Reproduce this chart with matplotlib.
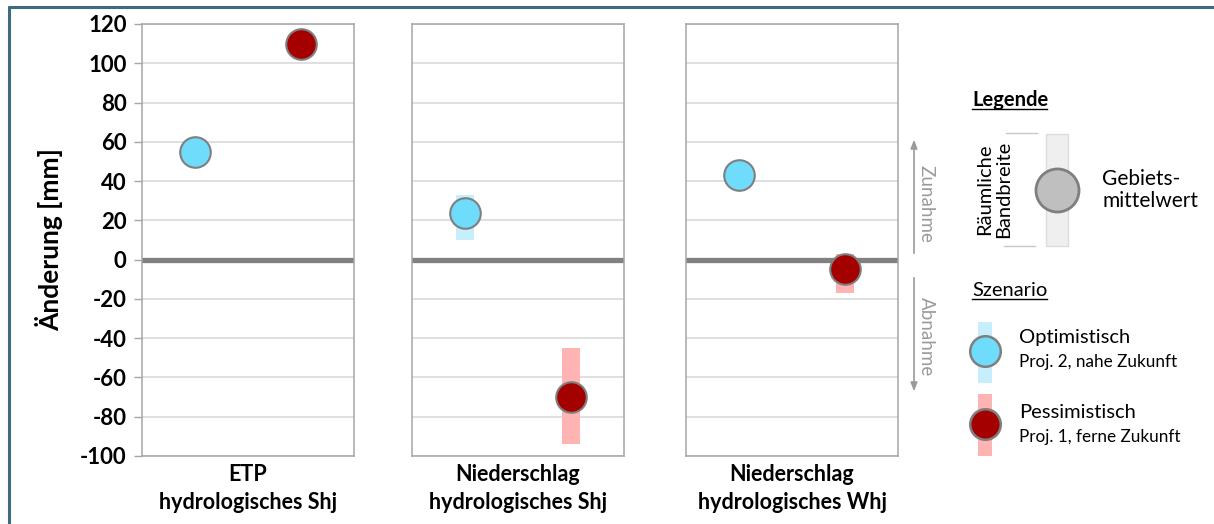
import matplotlib
matplotlib.use("Agg")
import matplotlib.pyplot as plt
import numpy as np

plt.rcParams["font.family"] = ["Lato", "DejaVu Sans"]
plt.rcParams["axes.unicode_minus"] = False

W, H = 1214, 524

# data (mm change)
categories = ["ETP\nhydrologisches Shj",
              "Niederschlag\nhydrologisches Shj",
              "Niederschlag\nhydrologisches Whj"]
opt_mean = [55, 24, 43]
opt_low = [55, 10, 43]
opt_high = [55, 33, 43]
pes_mean = [110, -70, -5]
pes_low = [110, -94, -17]
pes_high = [110, -45, 3]
yticks = list(range(-100, 121, 20))

BLUE, BLUE_BAR = "#6fdcfb", "#c6effb"
RED, RED_BAR = "#a50000", "#ffb3b3"
EDGE = "#7f7f7f"
FRAME = "#a6a6a6"

fig = plt.figure(figsize=(W / 100, H / 100), dpi=100)

# overlay in pixel coordinates for border and legend
ov = fig.add_axes([0, 0, 1, 1])
ov.set_xlim(0, W)
ov.set_ylim(H, 0)
ov.axis("off")
ov.plot([8, W], [6.5, 6.5], color="#3f6a82", lw=2.2, solid_capstyle="butt")
ov.plot([9, 9], [6, H], color="#3f6a82", lw=2.2, solid_capstyle="butt")

panel_left = [142, 412, 686]
panel_w, top, bottom = 212, 24, 456
axes = []
for i, left in enumerate(panel_left):
    ax = fig.add_axes([left / W, 1 - bottom / H, panel_w / W, (bottom - top) / H])
    axes.append(ax)
    ax.set_xlim(0, 2)
    ax.set_ylim(-100, 120)
    ax.set_yticks(yticks)
    for y in yticks:
        ax.axhline(y, color="#d9d9d9", lw=1.2, zorder=0)
    ax.axhline(0, color="#808080", lw=3.8, zorder=1)
    for s in ax.spines.values():
        s.set_color(FRAME)
        s.set_linewidth(1.1)
    ax.set_xticks([])
    ax.set_xlabel(categories[i], fontsize=15.5, fontweight="bold", color="black",
                  labelpad=6, linespacing=1.4)

    ax.bar(0.5, opt_high[i] - opt_low[i], bottom=opt_low[i], width=0.17,
           color=BLUE_BAR, zorder=2)
    ax.bar(1.5, pes_high[i] - pes_low[i], bottom=pes_low[i], width=0.17,
           color=RED_BAR, zorder=2)
    ax.plot(0.5, opt_mean[i], "o", ms=22, mfc=BLUE, mec=EDGE, mew=1.5, zorder=3)
    ax.plot(1.5, pes_mean[i], "o", ms=22, mfc=RED, mec=EDGE, mew=1.5, zorder=3)
    if i == 0:
        ax.tick_params(axis="y", length=6, width=1, color=FRAME, pad=5,
                       labelsize=16)
        for lab in ax.get_yticklabels():
            lab.set_fontweight("bold")
        ax.set_ylabel("Änderung [mm]", fontsize=19, fontweight="bold", labelpad=12)
    else:
        ax.tick_params(axis="y", length=0, labelleft=False)

# increase / decrease arrows
grey = "#9a9a9a"
ov.annotate("", xy=(914, 137), xytext=(914, 256),
            arrowprops=dict(arrowstyle="-|>,head_width=0.2,head_length=0.5",
                            color=grey, lw=1.2))
ov.annotate("", xy=(914, 394), xytext=(914, 275),
            arrowprops=dict(arrowstyle="-|>,head_width=0.2,head_length=0.5",
                            color=grey, lw=1.2))
ov.text(926, 204, "Zunahme", rotation=-90, ha="center", va="center",
        fontsize=13.5, color=grey)
ov.text(926, 337, "Abnahme", rotation=-90, ha="center", va="center",
        fontsize=13.5, color=grey)

# legend
ov.text(972, 100, "Legende", fontsize=14.5, fontweight="bold", ha="left", va="center")
ov.plot([972, 1047], [109, 109], color="black", lw=1)
ov.text(994, 189, "Räumliche\nBandbreite", rotation=90, ha="center", va="center",
        fontsize=14.5, multialignment="center", linespacing=1.15)
ov.plot([1006, 1037], [132.5, 132.5], color="#c8c8c8", lw=1)
ov.plot([1004, 1035], [246, 246], color="#c8c8c8", lw=1)
ov.add_patch(plt.Rectangle((1046, 134), 22, 112, facecolor="#efefef",
                           edgecolor="#dcdcdc", lw=1))
ov.plot(1057, 189.5, "o", ms=31, mfc="#bfbfbf", mec=EDGE, mew=2)
ov.text(1102, 190, "Gebiets-\nmittelwert", fontsize=15, ha="left", va="center",
        linespacing=1.15)

ov.text(972, 290, "Szenario", fontsize=14.5, ha="left", va="center")
ov.plot([972, 1047], [299, 299], color="black", lw=1)

ov.add_patch(plt.Rectangle((978, 322), 14, 61, facecolor=BLUE_BAR, edgecolor="none"))
ov.plot(985, 350.5, "o", ms=22, mfc=BLUE, mec=EDGE, mew=1.8)
ov.text(1019, 338, "Optimistisch", fontsize=14.5, ha="left", va="center")
ov.text(1019, 362, "Proj. 2, nahe Zukunft", fontsize=12.3, ha="left", va="center")

ov.add_patch(plt.Rectangle((978, 394), 14, 62, facecolor=RED_BAR, edgecolor="none"))
ov.plot(985, 424, "o", ms=22, mfc=RED, mec=EDGE, mew=1.8)
ov.text(1019, 413, "Pessimistisch", fontsize=14.5, ha="left", va="center")
ov.text(1019, 437, "Proj. 1, ferne Zukunft", fontsize=12.3, ha="left", va="center")

fig.savefig("out.png", dpi=100)
